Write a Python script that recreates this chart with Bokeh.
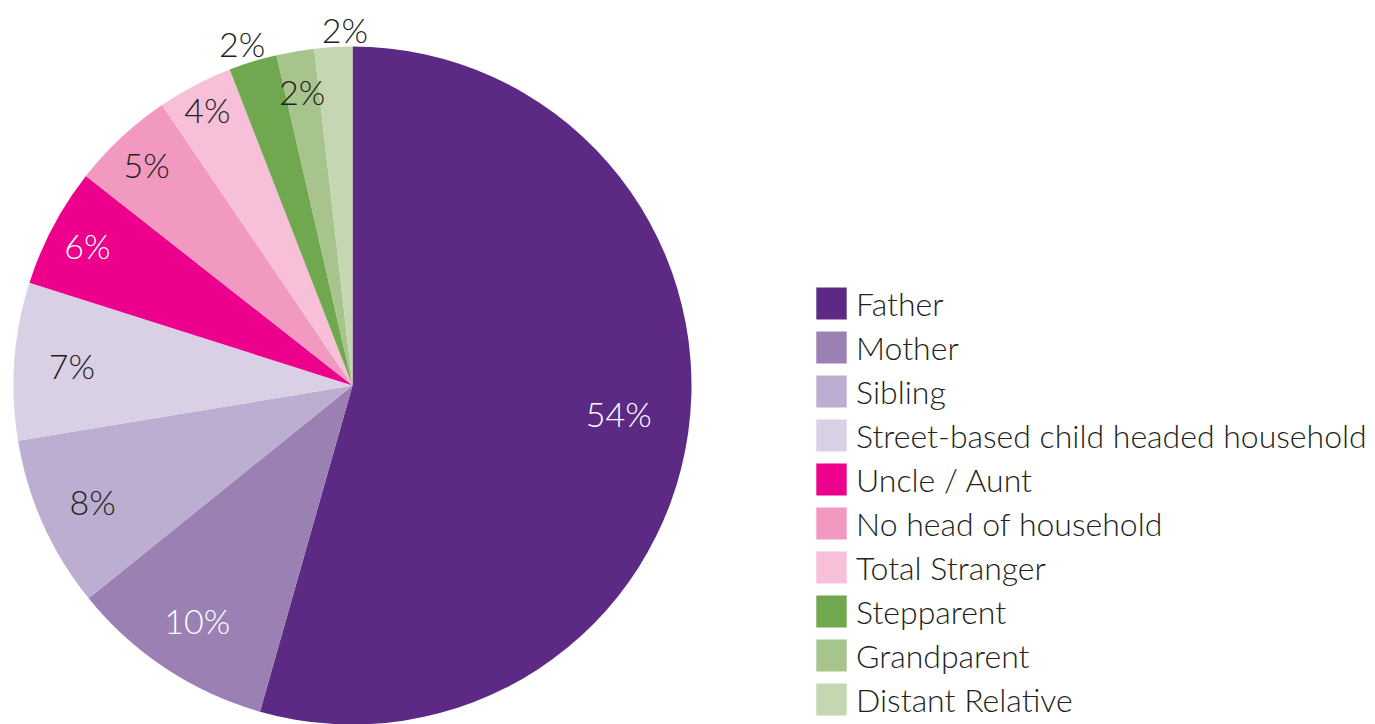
import math
from bokeh.plotting import figure
from bokeh.models import Range1d, Legend, LegendItem, ColumnDataSource
from bokeh.core.properties import value
from bokeh.embed import file_html
from bokeh.resources import INLINE

# ---- data ----
categories = ["Father", "Mother", "Sibling", "Street-based child headed household",
              "Uncle / Aunt", "No head of household", "Total Stranger",
              "Stepparent", "Grandparent", "Distant Relative"]
shares = [54.4, 9.8, 8.2, 7.5, 5.7, 4.9, 3.6, 2.3, 1.8, 1.8]
labels = ["54%", "10%", "8%", "7%", "6%", "5%", "4%", "2%", "2%", "2%"]

# ---- style ----
colors = ["#5c2a84", "#9b81b3", "#bcaed0", "#d9d0e5", "#ec008c",
          "#f299c1", "#f7bfd8", "#6fa84e", "#a7c48d", "#c4d7b2"]
label_colors = ["white", "white", "#231f20", "#231f20", "white",
                "#231f20", "#231f20", "#231f20", "#231f20", "#231f20"]
label_rfrac = [0.79, 0.83, 0.84, 0.83, 0.885, 0.89, 0.92, 1.06, 0.88, 1.05]
label_dang = [-1.9, 0, 0, 0, 0, 0, 0, -0.8, 0, 2.0]  # degrees, clockwise nudge
FONT = "'Lato Light', 'Liberation Sans'"

W, H = 1375, 724
CX, CY, R = 352, 339, 339

total = sum(shares)
cum = 0.0
starts, ends, lx, ly = [], [], [], []
for i, s in enumerate(shares):
    c0 = cum / total
    c1 = (cum + s) / total
    cum += s
    starts.append(math.pi / 2 - 2 * math.pi * c1)
    ends.append(math.pi / 2 - 2 * math.pi * c0)
    mid = math.pi / 2 - 2 * math.pi * (c0 + c1) / 2 - math.radians(label_dang[i])
    lx.append(CX + R * label_rfrac[i] * math.cos(mid))
    ly.append(CY + R * label_rfrac[i] * math.sin(mid))

src = ColumnDataSource(dict(cat=categories, start=starts, end=ends, color=colors,
                            lx=lx, ly=ly, label=labels, lcolor=label_colors))

p = figure(width=W, height=H, output_backend="svg", toolbar_location=None,
           x_range=Range1d(0, W), y_range=Range1d(0, H),
           x_axis_location=None, y_axis_location=None, min_border=0,
           outline_line_color=None, background_fill_color="white",
           border_fill_color="white")
p.grid.visible = False

r = p.wedge(x=CX, y=CY, radius=R, start_angle="start", end_angle="end",
            fill_color="color", line_color=None, source=src)

p.text(x="lx", y="ly", text="label", text_color="lcolor", source=src,
       text_font=value(FONT), text_font_size="34px",
       text_align="center", text_baseline="middle")

items = [LegendItem(label=c, renderers=[r], index=i) for i, c in enumerate(categories)]
legend = Legend(items=items, location=(812, 5), orientation="vertical",
                glyph_width=38, glyph_height=40, label_height=40, spacing=4,
                label_standoff=6, padding=0, margin=0,
                label_text_font=FONT, label_text_font_size="32px",
                label_text_color="#231f20", border_line_color=None,
                background_fill_alpha=0)
p.add_layout(legend)

open("out.html", "w").write(file_html(p, INLINE))
